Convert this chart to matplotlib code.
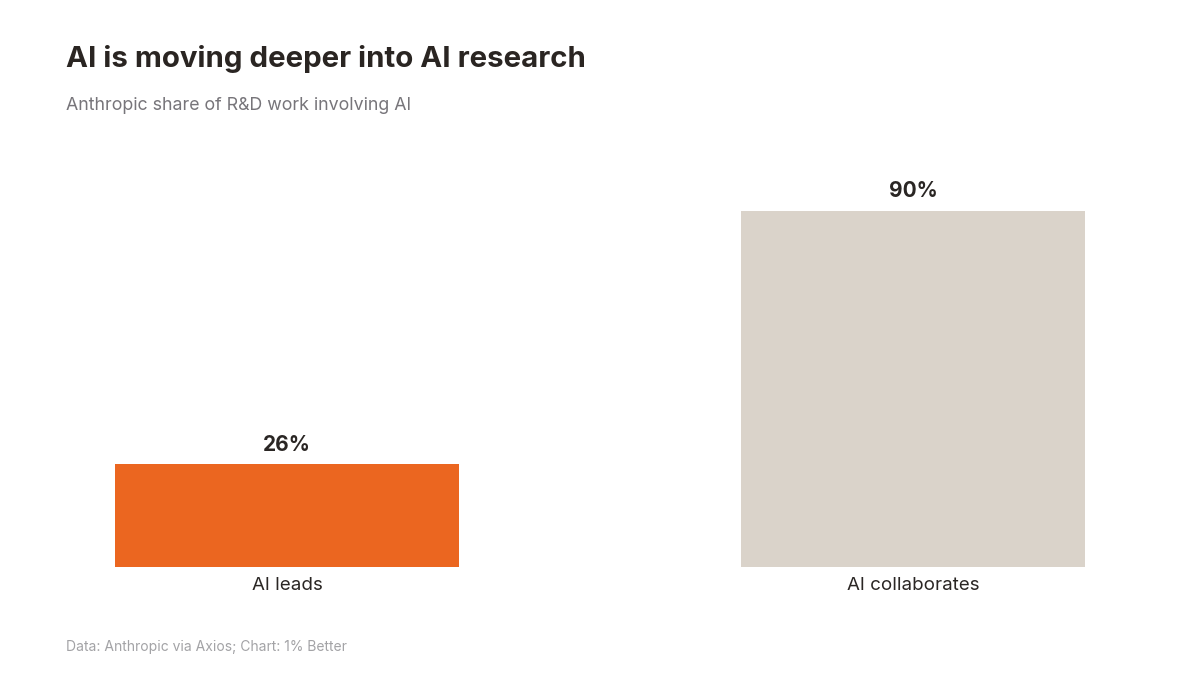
import matplotlib.pyplot as plt

plt.rcParams['font.family'] = ['Inter', 'DejaVu Sans']

categories = ['AI leads', 'AI collaborates']
values = [26, 90]
colors = ['#EB6620', '#DAD3CA']

fig = plt.figure(figsize=(12, 6.75), dpi=100)
fig.patch.set_facecolor('white')

ax = fig.add_axes([0.0827, 0.16, 0.8347, 0.5867])
x = range(len(categories))
bars = ax.bar(x, values, width=0.55, color=colors)
ax.set_xlim(-0.3, 1.3)
ax.set_ylim(0, 100)

for xi, v in zip(x, values):
    ax.text(xi, v + 2.3, f'{v}%', ha='center', va='bottom', fontsize=15,
            fontweight='bold', color='#2a2624')

ax.set_xticks(list(x))
ax.set_xticklabels(categories, fontsize=13.5, color='#2a2624')
ax.tick_params(axis='x', length=0, pad=7.5)
ax.set_yticks([])
for s in ax.spines.values():
    s.set_visible(False)

fig.text(66 / 1200, 1 - 59 / 675, 'AI is moving deeper into AI research',
         fontsize=21.2, fontweight='bold', color='#2a2522', va='center', ha='left')
fig.text(66 / 1200, 1 - 105 / 675, 'Anthropic share of R&D work involving AI',
         fontsize=12.8, color='#77757a', va='center', ha='left')
fig.text(66 / 1200, 1 - 647 / 675, 'Data: Anthropic via Axios; Chart: 1% Better',
         fontsize=10, color='#a3a3a6', va='center', ha='left')

fig.savefig('out.png', dpi=100)
